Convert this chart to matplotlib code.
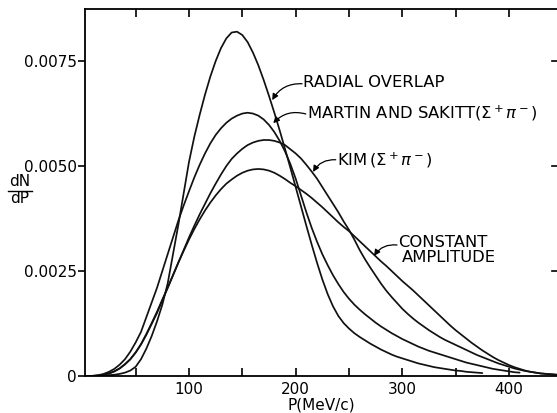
import matplotlib
matplotlib.use("Agg")
import matplotlib.pyplot as plt
from matplotlib.lines import Line2D

# ---- data (P in MeV/c, step 5) ----
p_radial = list(range(0, 380, 5))
radial = [0, 0, 0, 0.000003, 0.00001, 0.00002, 0.00003, 0.00005, 0.00008, 0.00013,
          0.00022, 0.0004, 0.00065, 0.00095, 0.0013, 0.0017, 0.0022, 0.0029, 0.0036, 0.00435,
          0.0051, 0.0057, 0.00622, 0.0067, 0.00713, 0.0075, 0.00781, 0.00804, 0.00818, 0.0082,
          0.00812, 0.00795, 0.0077, 0.0074, 0.00705, 0.00667, 0.00627, 0.00585, 0.00541, 0.00496,
          0.0045, 0.00404, 0.00358, 0.00313, 0.0027, 0.0023, 0.00195, 0.00166, 0.00143, 0.00126,
          0.00113, 0.00102, 0.00093, 0.00085, 0.00077, 0.0007, 0.00063, 0.00057, 0.00051, 0.00046,
          0.00042, 0.00038, 0.00034, 0.0003, 0.00027, 0.00024, 0.00021, 0.00019, 0.00017, 0.00015,
          0.00013, 0.00012, 0.0001, 0.00009, 0.00008, 0.00007]

p_martin = list(range(0, 415, 5))
martin = [0, 0, 0.000005, 0.00002, 0.00005, 0.0001, 0.00017, 0.00027, 0.0004, 0.00058,
          0.0008, 0.00105, 0.0014, 0.00175, 0.0021, 0.0025, 0.0029, 0.0033, 0.0037, 0.00406,
          0.0044, 0.00473, 0.00503, 0.0053, 0.00554, 0.00574, 0.0059, 0.00603, 0.00613, 0.0062,
          0.00625, 0.00627, 0.00625, 0.0062, 0.00611, 0.00598, 0.00581, 0.0056, 0.00535, 0.00505,
          0.0047, 0.0043, 0.0039, 0.00353, 0.0032, 0.0029, 0.00264, 0.0024, 0.00219, 0.002,
          0.00184, 0.0017, 0.00158, 0.00147, 0.00137, 0.00127, 0.00118, 0.0011, 0.00102, 0.00095,
          0.00088, 0.00082, 0.00076, 0.0007, 0.00065, 0.0006, 0.00056, 0.00052, 0.00048, 0.00044,
          0.0004, 0.00036, 0.00032, 0.00029, 0.00026, 0.00023, 0.0002, 0.00017, 0.00015, 0.00013,
          0.00011, 0.00009, 0.00008]

p_kim = list(range(0, 455, 5))
kim = [0, 0, 0.000003, 0.00001, 0.00003, 0.00006, 0.00011, 0.00018, 0.00028, 0.0004,
       0.00056, 0.00075, 0.00098, 0.00124, 0.0015, 0.0018, 0.0021, 0.0024, 0.0027, 0.003,
       0.0033, 0.00358, 0.00385, 0.0041, 0.00435, 0.00458, 0.0048, 0.005, 0.00517, 0.0053,
       0.00541, 0.0055, 0.00556, 0.0056, 0.00562, 0.00562, 0.0056, 0.00556, 0.0055, 0.0054,
       0.0053, 0.00518, 0.00503, 0.00487, 0.0047, 0.0045, 0.0043, 0.0041, 0.0039, 0.00368,
       0.00348, 0.00325, 0.003, 0.00278, 0.00258, 0.00239, 0.0022, 0.00203, 0.00188, 0.00174,
       0.0016, 0.00148, 0.00137, 0.00127, 0.00118, 0.00109, 0.00101, 0.00093, 0.00086, 0.0008,
       0.00074, 0.00068, 0.00062, 0.00056, 0.0005, 0.00045, 0.0004, 0.00035, 0.0003, 0.00026,
       0.00022, 0.00018, 0.00015, 0.00012, 0.0001, 0.00008, 0.00006, 0.00005, 0.00004, 0.00003,
       0.00002]

p_const = list(range(0, 455, 5))
const = [0, 0, 0.000003, 0.00001, 0.00003, 0.00006, 0.00011, 0.00018, 0.00028, 0.0004,
         0.00056, 0.00076, 0.001, 0.00126, 0.00153, 0.00182, 0.0021, 0.0024, 0.0027, 0.00298,
         0.00325, 0.0035, 0.00373, 0.00394, 0.00413, 0.0043, 0.00445, 0.00458, 0.00468, 0.00477,
         0.00484, 0.00489, 0.00492, 0.00493, 0.00492, 0.00489, 0.00484, 0.00477, 0.00469, 0.0046,
         0.00452, 0.00443, 0.00434, 0.00424, 0.00413, 0.00402, 0.0039, 0.00378, 0.00366, 0.00355,
         0.00345, 0.00333, 0.00321, 0.00309, 0.00297, 0.00285, 0.00273, 0.00262, 0.0025, 0.00238,
         0.00226, 0.00215, 0.00204, 0.00192, 0.0018, 0.00168, 0.00156, 0.00144, 0.00132, 0.0012,
         0.00109, 0.00099, 0.00089, 0.00079, 0.0007, 0.00061, 0.00053, 0.00045, 0.00038, 0.00032,
         0.00026, 0.00021, 0.00017, 0.00013, 0.0001, 0.00008, 0.00006, 0.00005, 0.00004, 0.00003,
         0.00002]

xticks_major = [100, 200, 300, 400]
xticks_minor = [50, 150, 250, 350]
yticks = [0, 0.0025, 0.0050, 0.0075]
ytick_labels = ["0", "0.0025", "0.0050", "0.0075"]

# ---- figure ----
plt.rcParams['font.family'] = ['DejaVu Sans']
plt.rcParams['mathtext.fontset'] = 'dejavusans'
fig = plt.figure(figsize=(5.57, 4.13), dpi=100)
ax = fig.add_axes([85 / 557, 37 / 413, 472 / 557, 367 / 413])

lw = 1.25
for px, py in [(p_radial, radial), (p_martin, martin), (p_kim, kim), (p_const, const)]:
    ax.plot(px, py, color='#111111', lw=lw, solid_capstyle='round', solid_joinstyle='round')

ax.set_xlim(2.5, 445)
ax.set_ylim(0, 0.00874)

ax.set_xticks(xticks_major)
ax.set_xticklabels([str(v) for v in xticks_major])
ax.set_xticks(xticks_minor, minor=True)
ax.set_yticks(yticks)
ax.set_yticklabels(ytick_labels)

ax.tick_params(axis='x', which='both', direction='in', top=True, bottom=True,
               length=6, width=1.2, labelsize=11, pad=4)
ax.tick_params(axis='y', which='both', direction='out', left=True, right=False,
               length=5, width=1.2, labelsize=11, pad=1)
for s in ax.spines.values():
    s.set_linewidth(1.3)
ax.spines['right'].set_visible(False)

# right-side inward ticks
for yv in yticks[1:]:
    ax.plot([440.5, 445], [yv, yv], color='black', lw=1.2, clip_on=False)

ax.set_xlabel("P(MeV/c)", fontsize=11, labelpad=1)

# dN/dP label
fig.text(20 / 557, 1 - 182 / 413, "dN", ha='center', va='center', fontsize=11)
fig.text(20 / 557, 1 - 199 / 413, "dP", ha='center', va='center', fontsize=11)
fig.add_artist(Line2D([8 / 557, 32 / 557], [1 - 191 / 413, 1 - 191 / 413], color='black', lw=1.0))

# curve labels
fs = 11.8
ax.text(207, 0.00698, "RADIAL OVERLAP", fontsize=fs, ha='left', va='center')
ax.text(210.6, 0.00626, r"MARTIN AND SAKITT$(\Sigma^+\pi^-)$", fontsize=fs, ha='left', va='center')
ax.text(238.8, 0.00514, r"KIM$\,(\Sigma^+\pi^-)$", fontsize=fs, ha='left', va='center')
ax.text(296, 0.00319, "CONSTANT", fontsize=fs, ha='left', va='center')
ax.text(299.5, 0.00283, "AMPLITUDE", fontsize=fs, ha='left', va='center')

arrow = dict(arrowstyle='-|>', color='black', lw=0.9, mutation_scale=9,
             shrinkA=0, shrinkB=0)
ax.annotate('', xy=(178, 0.00657), xytext=(206, 0.00696),
            arrowprops=dict(arrow, connectionstyle='arc3,rad=0.3'))
ax.annotate('', xy=(179, 0.00602), xytext=(209.5, 0.00624),
            arrowprops=dict(arrow, connectionstyle='arc3,rad=0.3'))
ax.annotate('', xy=(216.3, 0.00486), xytext=(237.5, 0.00515),
            arrowprops=dict(arrow, connectionstyle='arc3,rad=0.3'))
ax.annotate('', xy=(273.5, 0.00286), xytext=(295, 0.00312),
            arrowprops=dict(arrow, connectionstyle='arc3,rad=0.3'))

fig.savefig("out.png", dpi=100, facecolor='white')
